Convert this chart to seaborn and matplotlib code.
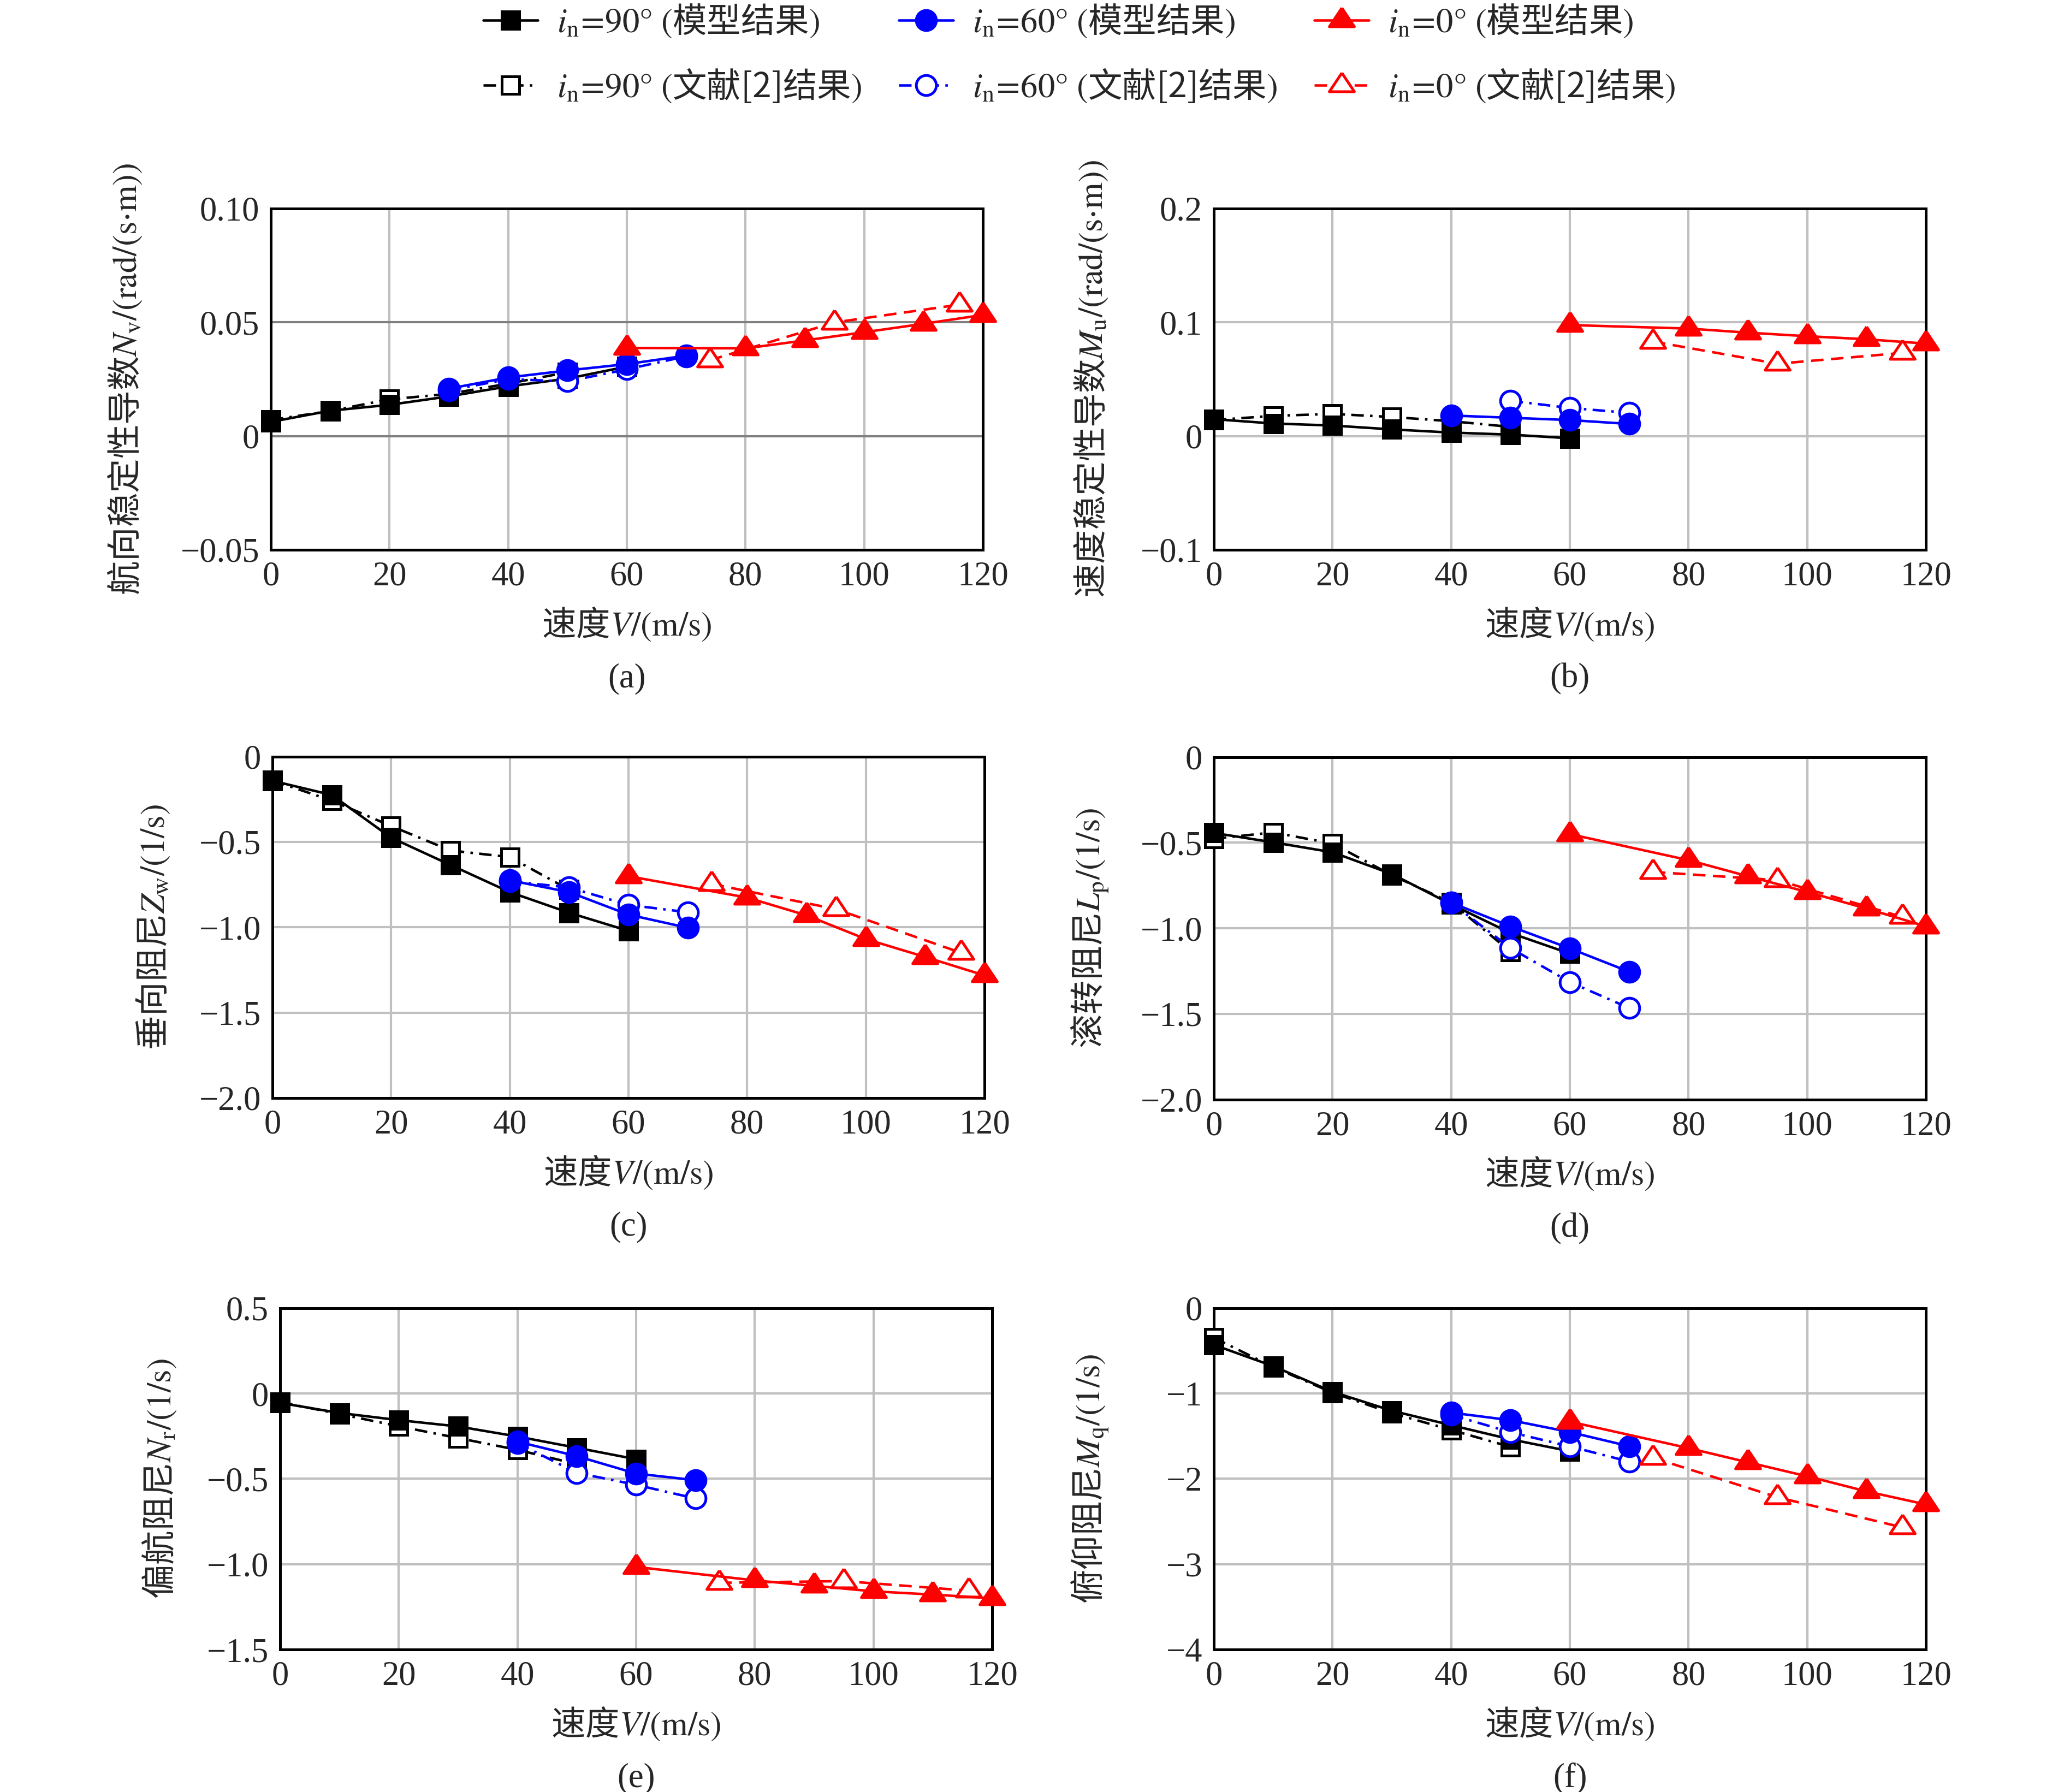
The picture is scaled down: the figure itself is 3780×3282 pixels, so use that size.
import matplotlib
matplotlib.use('Agg')
import matplotlib.pyplot as plt
import seaborn as sns
from matplotlib.ticker import MultipleLocator, FuncFormatter

# speed V (m/s) for every series
v_90 = [0, 10, 20, 30, 40, 50, 60]
v_90_ref = [0, 10, 20, 30, 40, 50]
v_60_a = [30, 40, 50, 60, 70]
v_60 = [40, 50, 60, 70]
v_60_ref_b = [50, 60, 70]
v_0 = [60, 80, 90, 100, 110, 120]
v_0_ref = [74, 95, 116]

# (a) Nv
nv_90 = [0.0062, 0.0111, 0.0137, 0.0174, 0.0218, 0.0252, 0.0305]
nv_90_ref = [0.0070, 0.0110, 0.0161, 0.0185, 0.0230, 0.0280]
nv_60 = [0.0208, 0.0257, 0.0288, 0.0316, 0.0353]
nv_60_ref = [0.0200, 0.0250, 0.0240, 0.0293, 0.0350]
nv_0 = [0.0387, 0.0385, 0.0420, 0.0456, 0.0493, 0.0532]
nv_0_ref = [0.0333, 0.0499, 0.0577]

# (b) Mu
mu_90 = [0.0148, 0.0110, 0.0092, 0.0058, 0.0030, 0.0012, -0.0020]
mu_90_ref = [0.0140, 0.0177, 0.0194, 0.0167, 0.0130, 0.0080]
mu_60 = [0.0180, 0.0160, 0.0140, 0.0106]
mu_60_ref = [0.0310, 0.0246, 0.0204]
mu_0 = [0.0975, 0.0944, 0.0908, 0.0877, 0.0850, 0.0812]
mu_0_ref = [0.0830, 0.0635, 0.0730]

# (c) Zw
zw_90 = [-0.142, -0.225, -0.475, -0.635, -0.794, -0.915, -1.021]
zw_90_ref = [-0.140, -0.258, -0.407, -0.550, -0.589, -0.780]
zw_60 = [-0.725, -0.794, -0.926, -1.003]
zw_60_ref = [-0.730, -0.767, -0.869, -0.912]
zw_0 = [-0.701, -0.826, -0.930, -1.069, -1.174, -1.282]
zw_0_ref = [-0.746, -0.894, -1.149]

# (d) Lp
lp_90 = [-0.443, -0.498, -0.556, -0.683, -0.860, -1.028, -1.148]
lp_90_ref = [-0.477, -0.440, -0.505, -0.690, -0.850, -1.137]
lp_60 = [-0.850, -0.989, -1.118, -1.254]
lp_60_ref = [-0.850, -1.116, -1.315, -1.466]
lp_0 = [-0.450, -0.602, -0.696, -0.788, -0.885, -0.989]
lp_0_ref = [-0.671, -0.719, -0.934]

# (e) Nr
nr_90 = [-0.055, -0.114, -0.156, -0.193, -0.252, -0.318, -0.385]
nr_90_ref = [-0.050, -0.120, -0.192, -0.261, -0.330, -0.414]
nr_60 = [-0.282, -0.367, -0.469, -0.508]
nr_60_ref = [-0.290, -0.465, -0.535, -0.615]
nr_0 = [-1.016, -1.095, -1.127, -1.159, -1.178, -1.200]
nr_0_ref = [-1.109, -1.099, -1.155]

# (f) Mq
mq_90 = [-0.430, -0.679, -0.980, -1.202, -1.371, -1.537, -1.676]
mq_90_ref = [-0.346, -0.690, -0.990, -1.230, -1.427, -1.626]
mq_60 = [-1.224, -1.313, -1.452, -1.618]
mq_60_ref = [-1.250, -1.454, -1.620, -1.798]
mq_0 = [-1.330, -1.640, -1.806, -1.970, -2.147, -2.300]
mq_0_ref = [-1.753, -2.216, -2.568]

legend_labels = [
    r'$i_\mathrm{n}\!=\!\mathrm{90°\ (}$模型结果$\mathrm{)}$',
    r'$i_\mathrm{n}\!=\!\mathrm{90°\ (}$文献[2]结果$\mathrm{)}$',
    r'$i_\mathrm{n}\!=\!\mathrm{60°\ (}$模型结果$\mathrm{)}$',
    r'$i_\mathrm{n}\!=\!\mathrm{60°\ (}$文献[2]结果$\mathrm{)}$',
    r'$i_\mathrm{n}\!=\!\mathrm{0°\ (}$模型结果$\mathrm{)}$',
    r'$i_\mathrm{n}\!=\!\mathrm{0°\ (}$文献[2]结果$\mathrm{)}$',
]
x_label = r'速度$V\mathrm{/(m/s)}$'

panels = [
    dict(tag='(a)', ylabel=r'航向稳定性导数$N_\mathrm{v}\mathrm{/(rad/(s{\cdot}m))}$',
         v60=v_60_a, v60r=v_60_a,
         y=[nv_90, nv_90_ref, nv_60, nv_60_ref, nv_0, nv_0_ref],
         ylim=(-0.05, 0.10), major=0.05, dec=2),
    dict(tag='(b)', ylabel=r'速度稳定性导数$M_\mathrm{u}\mathrm{/(rad/(s{\cdot}m))}$',
         v60=v_60, v60r=v_60_ref_b,
         y=[mu_90, mu_90_ref, mu_60, mu_60_ref, mu_0, mu_0_ref],
         ylim=(-0.1, 0.2), major=0.1, dec=1),
    dict(tag='(c)', ylabel=r'垂向阻尼$Z_\mathrm{w}\mathrm{/(1/s)}$',
         v60=v_60, v60r=v_60,
         y=[zw_90, zw_90_ref, zw_60, zw_60_ref, zw_0, zw_0_ref],
         ylim=(-2.0, 0), major=0.5, dec=1),
    dict(tag='(d)', ylabel=r'滚转阻尼$L_\mathrm{p}\mathrm{/(1/s)}$',
         v60=v_60, v60r=v_60,
         y=[lp_90, lp_90_ref, lp_60, lp_60_ref, lp_0, lp_0_ref],
         ylim=(-2.0, 0), major=0.5, dec=1),
    dict(tag='(e)', ylabel=r'偏航阻尼$N_\mathrm{r}\mathrm{/(1/s)}$',
         v60=v_60, v60r=v_60,
         y=[nr_90, nr_90_ref, nr_60, nr_60_ref, nr_0, nr_0_ref],
         ylim=(-1.5, 0.5), major=0.5, dec=1),
    dict(tag='(f)', ylabel=r'俯仰阻尼$M_\mathrm{q}\mathrm{/(1/s)}$',
         v60=v_60, v60r=v_60,
         y=[mq_90, mq_90_ref, mq_60, mq_60_ref, mq_0, mq_0_ref],
         ylim=(-4, 0), major=1, dec=0),
]

sns.set_style('white')
plt.rcParams['font.family'] = ['Liberation Serif', 'Noto Sans CJK SC']
plt.rcParams['mathtext.fontset'] = 'stix'
plt.rcParams['axes.unicode_minus'] = True

CJK = 'Noto Sans CJK SC'
FS = 15
tri = [(0, 1), (-1, -0.5), (1, -0.5), (0, 1)]   # triangle centred on its centroid

# style per series: colour, marker, filled?, linestyle, marker size
styles = [
    ('black', 's', True, '-', 7.8),
    ('black', 's', False, (0, (5, 2.5, 1, 2.5)), 7.8),
    ('#0000ff', 'o', True, '-', 8.8),
    ('#0000ff', 'o', False, (0, (5, 2.5, 1, 2.5)), 8.8),
    ('#ff0000', tri, True, '-', 11),
    ('#ff0000', tri, False, (0, (5, 3)), 11),
]
# literature first, model on top
draw_order = [1, 0, 3, 2, 5, 4]

# axes rectangles [left, bottom, width, height] in figure fraction
positions = [
    [0.1312, 0.6932, 0.345, 0.1905], [0.5881, 0.6932, 0.345, 0.1905],
    [0.1320, 0.3873, 0.345, 0.1905], [0.5881, 0.3865, 0.345, 0.1910],
    [0.1357, 0.0795, 0.345, 0.1905], [0.5881, 0.0795, 0.345, 0.1905],
]
ylabel_x = [-0.178, -0.146, -0.141, -0.146, -0.143, -0.146]


def tick_fmt(dec):
    def f(v, pos):
        if abs(v) < 1e-9:
            return '0'
        return f'{v:.{dec}f}'.replace('-', '\u2212')
    return FuncFormatter(f)


fig = plt.figure(figsize=(12.6, 10.94), dpi=300)
legend_handles = {}

for i, p in enumerate(panels):
    ax = fig.add_axes(positions[i])
    xs = [v_90, v_90_ref, p['v60'], p['v60r'], v_0, v_0_ref]
    for z, k in enumerate(draw_order):
        color, marker, filled, ls, ms = styles[k]
        sns.lineplot(x=xs[k], y=p['y'][k], ax=ax, color=color, marker=marker,
                     markersize=ms, markerfacecolor=color if filled else 'white',
                     markeredgecolor=color, markeredgewidth=1.2,
                     linestyle=ls, linewidth=1.1, clip_on=False,
                     legend=False, zorder=3 + z)
        if i == 0:
            legend_handles[k] = ax.get_lines()[-1]

    ax.set_xlim(0, 120)
    ax.set_ylim(*p['ylim'])
    ax.xaxis.set_major_locator(MultipleLocator(20))
    ax.xaxis.set_minor_locator(MultipleLocator(10))
    ax.yaxis.set_major_locator(MultipleLocator(p['major']))
    ax.yaxis.set_minor_locator(MultipleLocator(p['major'] / 2))
    ax.yaxis.set_major_formatter(tick_fmt(p['dec']))
    ax.tick_params(which='both', direction='in', top=False, right=False,
                   labelsize=FS, width=1.1, pad=5)
    ax.tick_params(which='major', length=5)
    ax.tick_params(which='minor', length=3)
    ax.set_axisbelow(True)
    ax.grid(True, which='major', color='#c0c0c0', linewidth=1.0)
    if i == 0:
        ax.yaxis.grid(True, color='#808080', linewidth=1.0)
    for s in ax.spines.values():
        s.set_linewidth(1.2)
        s.set_color('black')

    ax.set_xlabel(x_label, fontsize=FS, family=CJK)
    ax.xaxis.set_label_coords(0.5, -0.165)
    ax.set_ylabel(p['ylabel'], fontsize=FS, family=CJK)
    ax.yaxis.set_label_coords(ylabel_x[i], 0.5)
    ax.text(0.5, -0.378, p['tag'], transform=ax.transAxes, ha='center',
            va='center', fontsize=FS)

fig.legend([legend_handles[k] for k in range(6)], legend_labels,
           loc='upper center', bbox_to_anchor=(0.523, 1.002), ncol=3,
           frameon=False, prop={'family': CJK, 'size': FS},
           handlelength=1.6, handletextpad=0.55, columnspacing=1.1,
           labelspacing=0.8, borderaxespad=0.1, borderpad=0.1)

fig.savefig('out.png', dpi=300, facecolor='white')
